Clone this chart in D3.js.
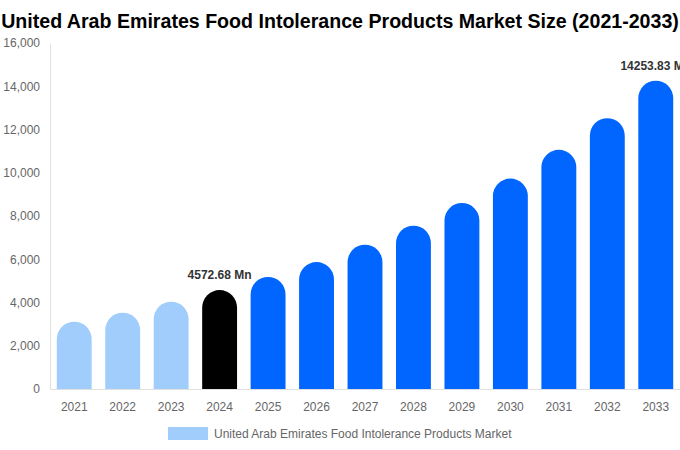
<!DOCTYPE html>
<html>
<head>
<meta charset="utf-8">
<script src="https://cdn.jsdelivr.net/npm/d3@7"></script>
<style>
body { margin: 0; background: #fff; }
text { font-family: "Liberation Sans", Arial, sans-serif; }
</style>
</head>
<body>
<div id="chart"></div>
<script>
// data
var years = ["2021", "2022", "2023", "2024", "2025", "2026", "2027", "2028", "2029", "2030", "2031", "2032", "2033"];
var values = [3110, 3530, 4040, 4572.68, 5180, 5870, 6670, 7550, 8600, 9730, 11060, 12520, 14253.83];
var yTicks = [0, 2000, 4000, 6000, 8000, 10000, 12000, 14000, 16000];
var labelled = {"2024": "4572.68 Mn", "2033": "14253.83 Mn"};
var seriesName = "United Arab Emirates Food Intolerance Products Market";

var svgWidth = 680, svgHeight = 450;
var margin = {top: 43, right: 0, bottom: 61, left: 50},
	width = svgWidth - margin.left - margin.right,
	height = svgHeight - margin.top - margin.bottom;

function barColor(year) {
	if (+year < 2024) return "#a1cdfd";
	if (+year === 2024) return "#000000";
	return "#0066ff";
}

var svg = d3.select("#chart")
	.append("svg")
		.attr("width", svgWidth)
		.attr("height", svgHeight);

svg.append("text")
	.attr("x", svgWidth / 2)
	.attr("y", 28)
	.attr("text-anchor", "middle")
	.attr("font-size", 19.6)
	.attr("font-weight", "bold")
	.attr("fill", "#000")
	.text("United Arab Emirates Food Intolerance Products Market Size (2021-2033)");

var g = svg.append("g")
	.attr("transform", `translate(${margin.left},${margin.top})`);

var x = d3.scaleBand()
	.domain(years)
	.range([0, width])
	.paddingInner(0.28)
	.paddingOuter(0.14);

var y = d3.scaleLinear()
	.domain([0, 16000])
	.range([height, 0]);

// y axis
var yAxis = g.append("g")
	.call(d3.axisLeft(y).tickValues(yTicks).tickSize(0).tickPadding(10).tickFormat(d3.format(",")));
yAxis.select(".domain").attr("stroke", "#e0e0e0");
yAxis.selectAll("text").attr("fill", "#666").attr("font-size", 12);

// bars with rounded tops
var bw = x.bandwidth();
var r = bw / 2;
g.selectAll(".bar")
	.data(years)
	.enter()
	.append("path")
		.attr("class", "bar")
		.attr("fill", d => barColor(d))
		.attr("d", function(d, i) {
			var x0 = x(d), top = y(values[i]), bottom = y(0);
			return `M${x0},${bottom} V${top + r} A${r},${r} 0 0 1 ${x0 + bw},${top + r} V${bottom} Z`;
		});

// x axis
var xAxis = g.append("g")
	.attr("transform", `translate(0,${height})`)
	.call(d3.axisBottom(x).tickSize(0).tickPadding(13));
xAxis.select(".domain").attr("stroke", "#e0e0e0");
xAxis.selectAll("text").attr("fill", "#666").attr("font-size", 12);

// value labels
g.selectAll(".vlabel")
	.data(years.filter(d => labelled[d]))
	.enter()
	.append("text")
		.attr("class", "vlabel")
		.attr("x", d => x(d) + bw / 2)
		.attr("y", d => y(values[years.indexOf(d)]) - 11)
		.attr("text-anchor", "middle")
		.attr("font-size", 12)
		.attr("font-weight", "bold")
		.attr("fill", "#333")
		.text(d => labelled[d]);

// legend
var legend = svg.append("g").attr("transform", "translate(168,427)");
legend.append("rect")
	.attr("width", 40)
	.attr("height", 13)
	.attr("fill", "#a1cdfd");
legend.append("text")
	.attr("x", 46)
	.attr("y", 10.5)
	.attr("font-size", 12)
	.attr("fill", "#666")
	.text(seriesName);
</script>
</body>
</html>
